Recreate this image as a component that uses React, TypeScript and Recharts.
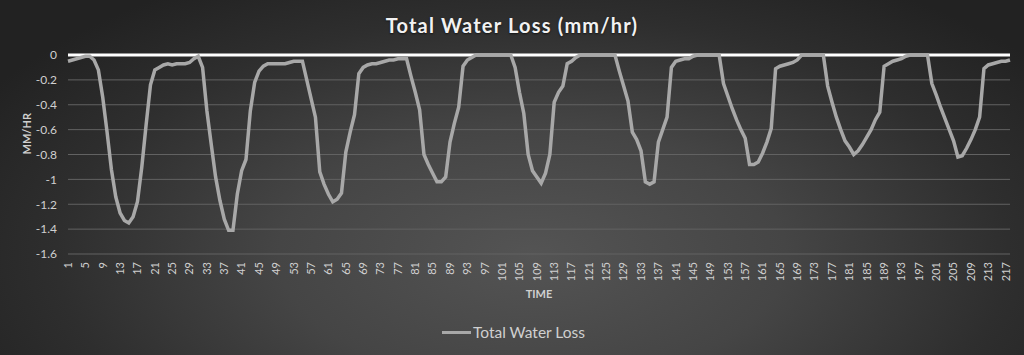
import React from 'react';
import { LineChart, Line, XAxis, YAxis, CartesianGrid, ReferenceLine } from 'recharts';

const lossValues: number[] = [
  -0.05, -0.04, -0.03, -0.02, -0.01, -0.01, -0.04, -0.12, -0.34, -0.62,
  -0.92, -1.14, -1.27, -1.33, -1.35, -1.30, -1.18, -0.90, -0.56, -0.24,
  -0.12, -0.10, -0.08, -0.07, -0.08, -0.07, -0.07, -0.07, -0.06, -0.03,
  -0.01, -0.10, -0.45, -0.72, -0.98, -1.17, -1.32, -1.41, -1.41, -1.12,
  -0.93, -0.84, -0.45, -0.22, -0.13, -0.09, -0.07, -0.07, -0.07, -0.07,
  -0.07, -0.06, -0.05, -0.05, -0.05, -0.20, -0.35, -0.50, -0.94, -1.04,
  -1.12, -1.18, -1.16, -1.11, -0.78, -0.62, -0.48, -0.15, -0.10, -0.08,
  -0.07, -0.07, -0.06, -0.05, -0.04, -0.04, -0.03, -0.03, -0.03, -0.17,
  -0.30, -0.44, -0.80, -0.88, -0.95, -1.02, -1.02, -0.98, -0.70, -0.55,
  -0.42, -0.09, -0.04, -0.02, 0, 0, 0, 0, 0, 0,
  0, 0, 0, -0.10, -0.30, -0.47, -0.80, -0.93, -0.98, -1.03,
  -0.95, -0.80, -0.38, -0.30, -0.25, -0.07, -0.05, -0.02, 0, 0,
  0, 0, 0, 0, 0, 0, 0, -0.13, -0.25, -0.37,
  -0.62, -0.68, -0.77, -1.02, -1.04, -1.02, -0.70, -0.60, -0.50, -0.10,
  -0.05, -0.04, -0.03, -0.03, -0.01, 0, 0, 0, 0, 0,
  0, -0.23, -0.33, -0.43, -0.52, -0.60, -0.67, -0.88, -0.88, -0.86,
  -0.79, -0.70, -0.59, -0.11, -0.09, -0.08, -0.07, -0.06, -0.04, 0,
  0, 0, 0, 0, 0, -0.25, -0.38, -0.50, -0.60, -0.69,
  -0.74, -0.80, -0.77, -0.72, -0.66, -0.60, -0.52, -0.46, -0.09, -0.07,
  -0.05, -0.04, -0.03, -0.01, 0, 0, 0, 0, 0, -0.23,
  -0.32, -0.42, -0.51, -0.60, -0.69, -0.82, -0.81, -0.75, -0.68, -0.60,
  -0.50, -0.11, -0.08, -0.07, -0.06, -0.05, -0.05, -0.04,
];

const timeLabels: number[] = lossValues.map((_, i) => i + 1);

const yTicks: number[] = [0, -0.2, -0.4, -0.6, -0.8, -1, -1.2, -1.4, -1.6];

const data = timeLabels.map((t, i) => ({ time: t, loss: lossValues[i] }));

const FONT = 'Lato, "Open Sans", "Noto Sans", sans-serif';

const XTick = (props: any) => {
  const { x, y, payload } = props;
  return (
    <text
      x={x}
      y={y}
      transform={`rotate(-90 ${x} ${y})`}
      textAnchor="end"
      dy="0.35em"
      fill="#d0d0d0"
      fontSize={11}
      fontFamily={FONT}
    >
      {payload.value}
    </text>
  );
};

export default function App() {
  return (
    <div
      style={{
        position: 'absolute',
        left: 0,
        top: 0,
        width: 1024,
        height: 355,
        overflow: 'hidden',
        background:
          'radial-gradient(ellipse 62% 90% at 52% 72%, #545454 0%, #454545 40%, #2e2e2e 75%, #222222 100%)',
        fontFamily: FONT,
      }}
    >
      <div
        style={{
          position: 'absolute',
          left: 0,
          width: 1024,
          top: 13,
          textAlign: 'center',
          color: '#f2f2f2',
          fontSize: 20,
          fontWeight: 700,
          letterSpacing: 1.2,
          textShadow: '0 1px 2px rgba(0,0,0,0.6)',
        }}
      >
        Total Water Loss (mm/hr)
      </div>
      <LineChart
        width={1024}
        height={355}
        data={data}
        margin={{ top: 55, right: 14, left: 0, bottom: 55 }}
      >
        <CartesianGrid vertical={false} stroke="#626262" strokeWidth={1} />
        <XAxis
          dataKey="time"
          type="category"
          interval={3}
          axisLine={false}
          tickLine={false}
          height={46}
          tick={<XTick />}
          label={{
            value: 'TIME',
            position: 'insideBottom',
            offset: 2,
            fill: '#d0d0d0',
            fontSize: 11,
            fontWeight: 700,
            fontFamily: FONT,
          }}
        />
        <YAxis
          type="number"
          domain={[-1.6, 0]}
          ticks={yTicks}
          interval={0}
          axisLine={false}
          tickLine={false}
          tickMargin={5}
          width={68}
          tick={{ fill: '#d0d0d0', fontSize: 12, fontFamily: FONT }}
          label={{
            value: 'MM/HR',
            angle: -90,
            position: 'insideLeft',
            offset: 27,
            fill: '#d0d0d0',
            fontSize: 11,
            fontWeight: 700,
            fontFamily: FONT,
          }}
        />
        <ReferenceLine y={0} stroke="#ffffff" strokeWidth={3} />
        <Line
          type="linear"
          dataKey="loss"
          stroke="#a8a8a8"
          strokeWidth={3.5}
          dot={false}
          isAnimationActive={false}
          name="Total Water Loss"
        />
      </LineChart>
      <div
        style={{
          position: 'absolute',
          left: 442,
          top: 323,
          display: 'flex',
          alignItems: 'center',
          color: '#d0d0d0',
          fontSize: 15.5,
        }}
      >
        <div style={{ width: 29, height: 3, background: '#a8a8a8', marginRight: 2 }} />
        <span>Total Water Loss</span>
      </div>
    </div>
  );
}
